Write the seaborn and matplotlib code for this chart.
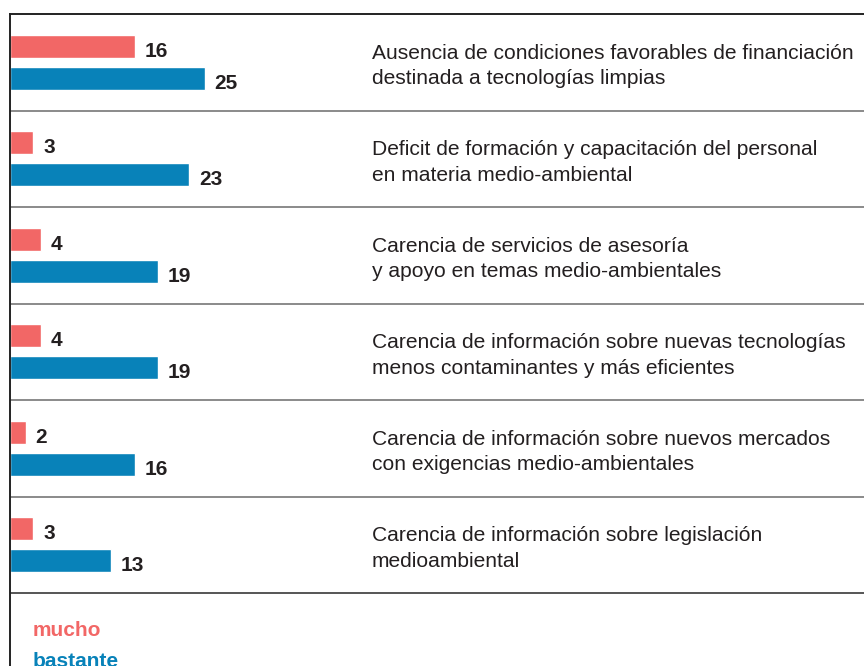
import matplotlib
matplotlib.use("Agg")
import matplotlib.pyplot as plt
import matplotlib.transforms as mtransforms
import seaborn as sns
import pandas as pd

# ---- data ----
categories = [
    "Ausencia de condiciones favorables de financiación\ndestinada a tecnologías limpias",
    "Deficit de formación y capacitación del personal\nen materia medio-ambiental",
    "Carencia de servicios de asesoría\ny apoyo en temas medio-ambientales",
    "Carencia de información sobre nuevas tecnologías\nmenos contaminantes y más eficientes",
    "Carencia de información sobre nuevos mercados\ncon exigencias medio-ambientales",
    "Carencia de información sobre legislación\nmedioambiental",
]
mucho = [16, 3, 4, 4, 2, 3]
bastante = [25, 23, 19, 19, 16, 13]
series_names = ["mucho", "bastante"]

RED = "#F26766"
BLUE = "#0882B9"
TXT = "#231F20"

sns.set_theme(style="white")
plt.rcParams["font.family"] = ["Liberation Sans", "DejaVu Sans"]

df = pd.DataFrame({
    "cat": categories * 2,
    "serie": [series_names[0]] * len(categories) + [series_names[1]] * len(categories),
    "valor": mucho + bastante,
})

W, H = 864, 666
fig = plt.figure(figsize=(W / 100, H / 100), dpi=100)
ax = fig.add_axes([10 / W, 0, 854 / W, (H - 14) / H])

sns.barplot(data=df, y="cat", x="valor", hue="serie", order=categories,
            hue_order=series_names, palette=[RED, BLUE], orient="h",
            width=0.664, gap=0.283, legend=False, ax=ax, saturation=1)

ax.set_xlim(0, 854 / 7.8)
ax.set_ylim(-0.5 + 652 / 96.5, -0.5)
ax.set_xlabel("")
ax.set_ylabel("")
ax.set_xticks([])
ax.set_yticks([])
for s in ["right", "bottom"]:
    ax.spines[s].set_visible(False)
ax.spines["top"].set_color("#222222")
ax.spines["top"].set_linewidth(1.4)
ax.spines["left"].set_color("#222222")
ax.spines["left"].set_linewidth(1.4)

for i in range(len(categories)):
    ax.axhline(i + 0.5, color="#555555" if i == len(categories) - 1 else "#8a8a8a",
               lw=1.4, zorder=0)

# value labels
for cont in ax.containers:
    for p in cont.patches:
        v = p.get_width()
        ax.annotate(f"{v:.0f}", (v, p.get_y() + p.get_height() / 2),
                    xytext=(7.0, -3.6), textcoords="offset points",
                    ha="left", va="center", fontsize=15, fontweight="bold",
                    color=TXT)

# category labels
trans = mtransforms.blended_transform_factory(ax.transAxes, ax.transData)
for i, c in enumerate(categories):
    ax.text((372 - 10) / 854, i + 0.04, c, transform=trans, ha="left", va="center",
            fontsize=15.1, color=TXT, linespacing=1.42)

# legend texts
fig.text(33 / W, 1 - 636 / H, series_names[0], color=RED, fontsize=15,
         fontweight="bold", ha="left", va="baseline")
fig.text(33 / W, 1 - 667 / H, series_names[1], color=BLUE, fontsize=15,
         fontweight="bold", ha="left", va="baseline")

fig.savefig("out.png", dpi=100)
